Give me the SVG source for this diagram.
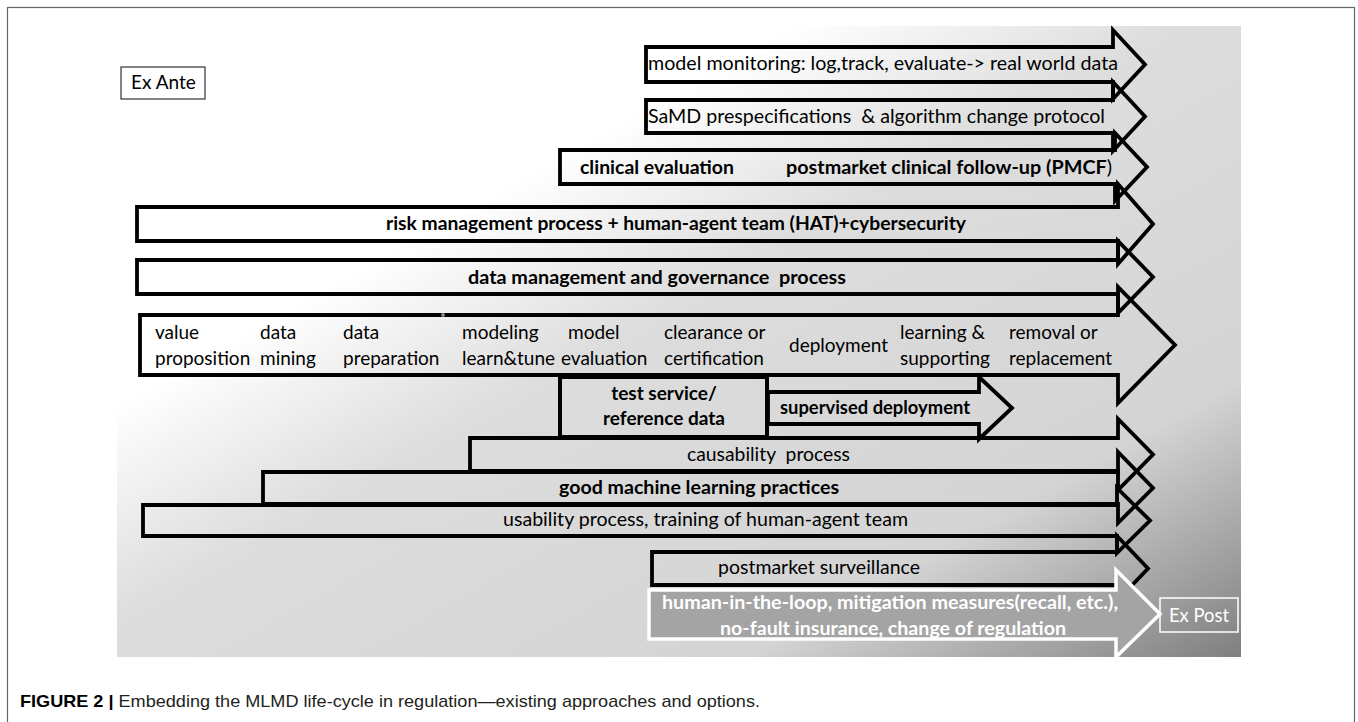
<svg xmlns="http://www.w3.org/2000/svg" width="1358" height="722" viewBox="0 0 1358 722">
<defs>
<linearGradient id="bg" x1="0" y1="0" x2="1" y2="1">
<stop offset="0" stop-color="#ffffff"/>
<stop offset="0.3" stop-color="#ffffff"/>
<stop offset="0.47" stop-color="#dddddd"/>
<stop offset="0.78" stop-color="#d4d4d4"/>
<stop offset="1" stop-color="#7f7f7f"/>
</linearGradient>
<style>
.a{fill:none;stroke:#000;stroke-width:3.8;stroke-linejoin:miter}
.t{font-family:Lato,"Open Sans",sans-serif;font-size:19px;fill:#000}
.b{font-weight:bold}
.w{fill:#fff}
.cap{font-family:"Liberation Sans",Arial,sans-serif;font-size:17px;fill:#231f20}
</style>
</defs>
<rect x="7.5" y="7.5" width="1347" height="740" fill="#fff" stroke="#666" stroke-width="1.2"/>
<rect x="117" y="26" width="1124" height="631" fill="url(#bg)"/>

<g id="ex-ante">
<rect x="121" y="67" width="84" height="32" fill="#fff" stroke="#333" stroke-width="1.2"/>
<text class="t" x="131" y="89">Ex Ante</text>
</g>

<g id="model-monitoring">
<polygon class="a" points="646,47 1113,47 1113,30 1145,64.5 1113,99 1113,82 646,82"/>
<text class="t" x="648" y="70" textLength="470" lengthAdjust="spacingAndGlyphs">model monitoring: log,track, evaluate-&gt; real world data</text>
</g>

<g id="samd">
<polygon class="a" points="646,100 1113,100 1113,82 1145,116.5 1113,151 1113,133 646,133"/>
<text class="t" x="648" y="123" xml:space="preserve" textLength="457" lengthAdjust="spacingAndGlyphs">SaMD prespecifications  &amp; algorithm change protocol</text>
</g>

<g id="clinical">
<polygon class="a" points="560,150 1115,150 1115,133 1147,167 1115,201 1115,184 560,184"/>
<text class="t b" x="580" y="174" textLength="154" lengthAdjust="spacingAndGlyphs">clinical evaluation</text>
<text class="t b" x="786" y="174" textLength="326" lengthAdjust="spacingAndGlyphs">postmarket clinical follow-up (PMCF<tspan font-weight="normal">)</tspan></text>
</g>

<g id="risk">
<polygon class="a" points="137,207 1118,207 1118,184 1153,224 1118,264 1118,241 137,241"/>
<text class="t b" x="386" y="230" textLength="580" lengthAdjust="spacingAndGlyphs">risk management process + human-agent team (HAT)+cybersecurity</text>
</g>

<g id="data-management">
<polygon class="a" points="137,260 1118,260 1118,241 1153,277 1118,313 1118,294 137,294"/>
<text class="t b" x="468" y="284" xml:space="preserve" textLength="378" lengthAdjust="spacingAndGlyphs">data management and governance  process</text>
</g>

<g id="lifecycle">
<polygon class="a" points="140,315 1118,315 1118,287 1175,345 1118,403 1118,375 140,375"/>
<circle cx="443" cy="315" r="2" fill="#888"/>
<text class="t" x="155" y="339">value</text>
<text class="t" x="155" y="365">proposition</text>
<text class="t" x="260" y="339">data</text>
<text class="t" x="260" y="365">mining</text>
<text class="t" x="343" y="339">data</text>
<text class="t" x="343" y="365">preparation</text>
<text class="t" x="462" y="339">modeling</text>
<text class="t" x="462" y="365">learn&amp;tune</text>
<text class="t" x="568" y="339">model</text>
<text class="t" x="561" y="365">evaluation</text>
<text class="t" x="664" y="339">clearance or</text>
<text class="t" x="664" y="365">certification</text>
<text class="t" x="789" y="352">deployment</text>
<text class="t" x="900" y="339">learning &amp;</text>
<text class="t" x="900" y="365">supporting</text>
<text class="t" x="1009" y="339">removal or</text>
<text class="t" x="1009" y="365">replacement</text>
</g>

<g id="test-service">
<rect x="560" y="377" width="207" height="60" fill="none" stroke="#000" stroke-width="4"/>
<text class="t b" x="664" y="400" text-anchor="middle">test service/</text>
<text class="t b" x="664" y="425" text-anchor="middle">reference data</text>
</g>

<g id="supervised-deployment">
<polygon class="a" points="768,392 979,392 979,377 1012,408 979,439 979,424 768,424"/>
<text class="t b" x="780" y="414" textLength="190" lengthAdjust="spacingAndGlyphs">supervised deployment</text>
</g>

<g id="causability">
<polygon class="a" points="470,438 1118,438 1118,419 1153,454.5 1118,490 1118,471 470,471"/>
<text class="t" x="687" y="461" xml:space="preserve" textLength="163" lengthAdjust="spacingAndGlyphs">causability  process</text>
</g>

<g id="gmlp">
<polygon class="a" points="263,472 1118,472 1118,452 1153,488 1118,523 1118,504 263,504"/>
<text class="t b" x="559" y="494" textLength="280" lengthAdjust="spacingAndGlyphs">good machine learning practices</text>
</g>

<g id="usability">
<polygon class="a" points="143,505 1117,505 1117,488 1150,520.5 1117,553 1117,536 143,536"/>
<text class="t" x="503" y="526" textLength="405" lengthAdjust="spacingAndGlyphs">usability process, training of human-agent team</text>
</g>

<g id="postmarket-surveillance">
<polygon class="a" points="652,552 1117,552 1117,536 1148,568.5 1117,601 1117,585 652,585"/>
<text class="t" x="718" y="574" textLength="202" lengthAdjust="spacingAndGlyphs">postmarket surveillance</text>
</g>

<g id="ex-post-measures">
<polygon points="649,590 1116,590 1116,570 1160,614 1116,657 1116,639 649,639" fill="#a4a4a4" stroke="#fff" stroke-width="3.5"/>
<text class="t b w" x="662" y="609" textLength="456" lengthAdjust="spacingAndGlyphs">human-in-the-loop, mitigation measures(recall, etc.),</text>
<text class="t b w" x="720" y="635" textLength="346" lengthAdjust="spacingAndGlyphs">no-fault insurance, change of regulation</text>
</g>

<g id="ex-post">
<rect x="1160" y="598" width="78" height="34" fill="none" stroke="#fff" stroke-width="1.5"/>
<text class="t w" x="1169" y="622" textLength="60" lengthAdjust="spacingAndGlyphs">Ex Post</text>
</g>

<g id="caption">
<text class="cap" x="20" y="707" textLength="740" lengthAdjust="spacingAndGlyphs"><tspan font-weight="bold" fill="#000">FIGURE 2 |</tspan> Embedding the MLMD life-cycle in regulation—existing approaches and options.</text>
</g>
</svg>
